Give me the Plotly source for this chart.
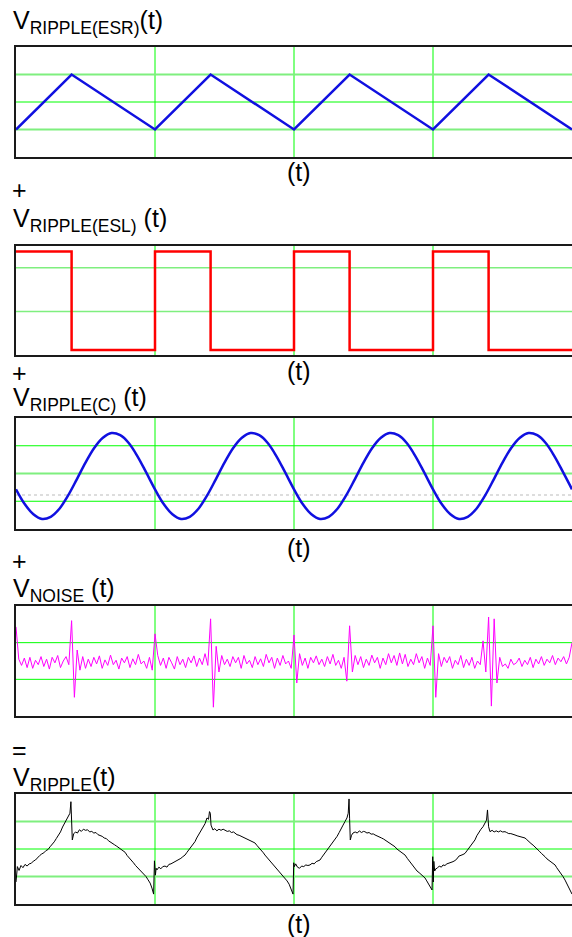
import plotly.graph_objects as go

W, H = 572, 937
FONT = "Liberation Sans, Arial, sans-serif"

# ---------------- data ----------------
# Panel 1: ESR ripple (triangle) - vertices
esr_t = [0, 0.4, 1.0, 1.4, 2.0, 2.4, 3.0, 3.4, 4.0]
esr_v = [1, 3, 1, 3, 1, 3, 1, 3, 1]

# Panel 2: ESL ripple (square wave) - transition points
esl_t = [0, 0.4, 1.0, 1.4, 2.0, 2.4, 3.0, 3.4, 4.0]
esl_v = [0.95, 0.045, 0.95, 0.045, 0.95, 0.045, 0.95, 0.045, 0.045]

# Panel 3: capacitor ripple (sine) sampled every 1/16 period
cap_step = 1 / 16
cap_v = [
    1.43, 0.90, 0.53, 0.36, 0.44, 0.73, 1.21, 1.79, 2.39, 2.92, 3.29, 3.46, 3.38, 3.09, 2.61, 2.03,
    1.43, 0.90, 0.53, 0.36, 0.44, 0.73, 1.21, 1.79, 2.39, 2.92, 3.29, 3.46, 3.38, 3.09, 2.61, 2.03,
    1.43, 0.90, 0.53, 0.36, 0.44, 0.73, 1.21, 1.79, 2.39, 2.92, 3.29, 3.46, 3.38, 3.09, 2.61, 2.03,
    1.43, 0.90, 0.53, 0.36, 0.44, 0.73, 1.21, 1.79, 2.39, 2.92, 3.29, 3.46, 3.38, 3.09, 2.61, 2.03,
    1.43,
]
cap_ref = 1.225  # dashed grey reference level

# Panel 4: noise, sampled every 0.02 period
noise_step = 0.02
noise_v = [
    0.93, 0.05, -0.12, 0.08, -0.18, 0.10, -0.20, 0.02, -0.10, 0.12,
    -0.15, 0.05, -0.22, 0.10, -0.05, 0.15, -0.18, 0.00, 0.12, -0.10,
    1.10, -0.99, 0.30, -0.25, 0.12, -0.20, 0.05, -0.15, 0.10, -0.08,
    0.14, -0.20, 0.03, -0.12, 0.16, -0.10, 0.02, -0.22, 0.08, -0.05,
    0.12, -0.18, 0.06, -0.10, 0.18, -0.08, 0.00, -0.20, 0.10, -0.25,
    0.74, 0.15, -0.12, 0.08, -0.20, 0.10, -0.05, -0.22, 0.12, -0.10,
    0.05, -0.18, 0.10, -0.05, 0.14, -0.15, 0.08, -0.10, 0.20, -0.12,
    1.15, -1.26, 0.40, -0.30, 0.15, -0.10, 0.05, -0.15, 0.12, -0.05,
    0.10, -0.20, 0.15, -0.08, 0.02, -0.18, 0.12, -0.10, 0.06, -0.15,
    0.18, -0.05, 0.10, -0.20, 0.08, -0.12, 0.15, -0.08, 0.00, -0.20,
    0.71, -0.60, 0.20, -0.12, 0.08, -0.20, 0.10, -0.05, 0.14, -0.10,
    0.05, -0.15, 0.12, -0.08, 0.18, -0.12, 0.02, -0.20, 0.10, -0.55,
    0.96, -0.30, 0.15, -0.10, 0.12, -0.18, 0.05, -0.12, 0.16, -0.05,
    0.10, -0.20, 0.08, -0.10, 0.20, -0.05, 0.15, -0.12, 0.22, -0.08,
    0.18, -0.15, 0.05, -0.10, 0.20, -0.05, 0.12, -0.20, 0.08, -0.12,
    0.96, -0.99, 0.20, -0.15, 0.10, -0.05, 0.12, -0.20, 0.02, -0.10,
    0.15, -0.18, 0.05, -0.12, 0.10, -0.20, 0.00, -0.10, 0.55, -0.30,
    1.20, -1.23, 1.15, -0.60, 0.10, -0.15, -0.08, -0.20, 0.05, -0.10,
    -0.05, 0.08, -0.15, 0.02, -0.10, 0.10, -0.18, 0.05, -0.08, 0.12,
    -0.12, 0.05, -0.05, 0.15, -0.10, 0.08, -0.02, 0.12, -0.08, 0.10,
    0.50,
]

# Panel 5: total ripple
ripple_t = [
    0.000, 0.010, 0.022, 0.036, 0.050, 0.065, 0.080, 0.095, 0.110, 0.125,
    0.140, 0.155, 0.170, 0.185, 0.200, 0.215, 0.230, 0.245, 0.260, 0.275,
    0.290, 0.305, 0.320, 0.335, 0.350, 0.365, 0.378, 0.388, 0.395, 0.400,
    0.405, 0.415, 0.428, 0.442, 0.456, 0.470, 0.485, 0.500, 0.515, 0.530,
    0.545, 0.560, 0.575, 0.590, 0.605, 0.620, 0.635, 0.650, 0.665, 0.680,
    0.695, 0.710, 0.725, 0.740, 0.755, 0.770, 0.785, 0.800, 0.815, 0.830,
    0.845, 0.860, 0.875, 0.890, 0.905, 0.920, 0.935, 0.950, 0.965, 0.978,
    0.990, 0.996, 1.003, 1.008, 1.014, 1.028, 1.042, 1.056, 1.072, 1.086,
    1.100, 1.115, 1.130, 1.144, 1.158, 1.172, 1.186, 1.200, 1.216, 1.230,
    1.245, 1.260, 1.275, 1.288, 1.300, 1.315, 1.330, 1.345, 1.360, 1.374,
    1.385, 1.392, 1.398, 1.403, 1.417, 1.430, 1.445, 1.460, 1.475, 1.490,
    1.504, 1.520, 1.535, 1.550, 1.565, 1.576, 1.590, 1.605, 1.620, 1.635,
    1.647, 1.660, 1.675, 1.690, 1.705, 1.719, 1.735, 1.750, 1.765, 1.780,
    1.791, 1.805, 1.820, 1.835, 1.850, 1.863, 1.878, 1.892, 1.906, 1.920,
    1.935, 1.950, 1.965, 1.978, 1.993, 1.998, 2.003, 2.012, 2.025, 2.040,
    2.055, 2.070, 2.085, 2.100, 2.115, 2.130, 2.145, 2.160, 2.175, 2.187,
    2.200, 2.212, 2.225, 2.237, 2.250, 2.265, 2.280, 2.295, 2.310, 2.325,
    2.340, 2.353, 2.367, 2.381, 2.390, 2.396, 2.400, 2.405, 2.414, 2.424,
    2.440, 2.455, 2.470, 2.485, 2.500, 2.510, 2.525, 2.540, 2.555, 2.570,
    2.583, 2.600, 2.615, 2.630, 2.645, 2.655, 2.670, 2.685, 2.700, 2.715,
    2.727, 2.740, 2.755, 2.770, 2.785, 2.799, 2.815, 2.830, 2.845, 2.858,
    2.871, 2.885, 2.900, 2.915, 2.930, 2.942, 2.955, 2.970, 2.983, 2.993,
    2.998, 3.002, 3.006, 3.012, 3.020, 3.030, 3.045, 3.060, 3.072, 3.086,
    3.100, 3.115, 3.130, 3.144, 3.158, 3.172, 3.186, 3.200, 3.216, 3.230,
    3.245, 3.260, 3.275, 3.288, 3.302, 3.315, 3.330, 3.345, 3.360, 3.374,
    3.385, 3.392, 3.396, 3.400, 3.410, 3.425, 3.440, 3.455, 3.470, 3.485,
    3.500, 3.518, 3.530, 3.545, 3.560, 3.575, 3.590, 3.605, 3.620, 3.635,
    3.650, 3.662, 3.675, 3.690, 3.705, 3.720, 3.734, 3.750, 3.765, 3.780,
    3.795, 3.806, 3.820, 3.835, 3.850, 3.865, 3.878, 3.890, 3.905, 3.920,
    3.935, 3.950, 3.965, 3.980, 4.000,
]
ripple_v = [
    0.80, 1.36, 1.22, 1.40, 1.32, 1.44, 1.38, 1.46, 1.48, 1.56,
    1.60, 1.70, 1.76, 1.82, 1.86, 1.94, 1.98, 2.08, 2.16, 2.26,
    2.38, 2.50, 2.62, 2.80, 2.94, 3.10, 3.24, 3.30, 3.72, 3.05,
    2.33, 2.55, 2.62, 2.58, 2.70, 2.64, 2.72, 2.68, 2.70, 2.62,
    2.64, 2.58, 2.60, 2.52, 2.50, 2.46, 2.40, 2.38, 2.30, 2.26,
    2.20, 2.15, 2.10, 2.04, 2.00, 1.92, 1.88, 1.76, 1.68, 1.58,
    1.50, 1.40, 1.32, 1.22, 1.16, 1.08, 1.00, 0.88, 0.76, 0.58,
    0.36, 1.57, 1.05, 1.30, 1.24, 1.34, 1.28, 1.36, 1.38, 1.34,
    1.44, 1.46, 1.50, 1.54, 1.58, 1.62, 1.66, 1.72, 1.78, 1.88,
    1.98, 2.06, 2.18, 2.27, 2.40, 2.52, 2.64, 2.76, 2.92, 3.13,
    3.08, 3.36, 3.30, 2.87, 2.69, 2.74, 2.66, 2.72, 2.68, 2.72,
    2.69, 2.64, 2.66, 2.60, 2.62, 2.58, 2.52, 2.50, 2.46, 2.44,
    2.40, 2.36, 2.32, 2.28, 2.24, 2.22, 2.12, 2.04, 1.94, 1.86,
    1.78, 1.70, 1.60, 1.52, 1.44, 1.36, 1.28, 1.18, 1.10, 1.04,
    0.95, 0.84, 0.72, 0.56, 0.36, 1.50, 1.36, 1.46, 1.34, 1.30,
    1.38, 1.36, 1.42, 1.40, 1.42, 1.48, 1.46, 1.54, 1.56, 1.60,
    1.70, 1.78, 1.86, 1.96, 2.04, 2.14, 2.22, 2.33, 2.46, 2.60,
    2.72, 2.87, 3.00, 3.13, 3.30, 3.82, 3.10, 2.33, 2.50, 2.58,
    2.62, 2.58, 2.66, 2.60, 2.64, 2.63, 2.58, 2.60, 2.54, 2.55,
    2.51, 2.46, 2.42, 2.40, 2.36, 2.33, 2.28, 2.22, 2.18, 2.12,
    2.08, 2.00, 1.94, 1.88, 1.84, 1.78, 1.66, 1.56, 1.46, 1.38,
    1.30, 1.20, 1.14, 1.06, 1.00, 0.95, 0.84, 0.72, 0.60, 0.51,
    1.72, 0.80, 1.55, 1.20, 1.28, 1.30, 1.38, 1.34, 1.42, 1.40,
    1.46, 1.48, 1.52, 1.54, 1.58, 1.64, 1.74, 1.76, 1.80, 1.84,
    1.95, 2.05, 2.15, 2.24, 2.33, 2.48, 2.62, 2.72, 2.81, 2.92,
    3.05, 3.42, 3.15, 2.81, 2.63, 2.68, 2.62, 2.66, 2.62, 2.66,
    2.62, 2.63, 2.60, 2.56, 2.56, 2.52, 2.51, 2.48, 2.46, 2.44,
    2.42, 2.40, 2.34, 2.26, 2.20, 2.14, 2.08, 2.00, 1.92, 1.84,
    1.78, 1.72, 1.64, 1.58, 1.52, 1.48, 1.42, 1.32, 1.22, 1.10,
    1.00, 0.87, 0.72, 0.56, 0.36,
]

cap_t = [i * cap_step for i in range(len(cap_v))]
noise_t = [i * noise_step for i in range(len(noise_v))]

# ---------------- layout helpers ----------------
PLOT_LEFT = 16
panels_px = [(47, 157), (246, 355), (418, 529), (606, 716), (794, 904)]
y_ranges = [[0, 4], [0, 1], [0, 4], [-1.5, 1.5], [0, 4]]
BRIGHT = "#00ff00"
LIGHT = "#7fef7f"
# horizontal grid per panel: (value, color, width)
h_grids = [
    [(1, LIGHT, 2), (2, BRIGHT, 1), (3, LIGHT, 2)],
    [(0.4, LIGHT, 1.5), (0.8, LIGHT, 1.5)],
    [(1, BRIGHT, 1), (2, LIGHT, 2), (3, BRIGHT, 1)],
    [(-0.5, BRIGHT, 1), (0.5, BRIGHT, 1)],
    [(1, LIGHT, 2), (2, BRIGHT, 1), (3, LIGHT, 2)],
]

fig = go.Figure()

traces = [
    dict(x=esr_t, y=esr_v, line=dict(color="#1010e0", width=2.5)),
    dict(x=esl_t, y=esl_v, line=dict(color="#ff0000", width=2.5, shape="hv")),
    dict(x=cap_t, y=cap_v, line=dict(color="#1010e0", width=2.5, shape="spline")),
    dict(x=noise_t, y=noise_v, line=dict(color="#ff00ff", width=1)),
    dict(x=ripple_t, y=ripple_v, line=dict(color="#000000", width=1)),
]

shapes = []
layout = {}
for i, ((top, bot), yr, tr) in enumerate(zip(panels_px, y_ranges, traces)):
    n = "" if i == 0 else str(i + 1)
    xa, ya = "x" + n, "y" + n
    fig.add_trace(go.Scatter(mode="lines", xaxis=xa, yaxis=ya, showlegend=False,
                             hoverinfo="skip", **tr))
    layout["xaxis" + n] = dict(
        domain=[PLOT_LEFT / W, 1], range=[0, 4], anchor=ya,
        showgrid=False, zeroline=False, showticklabels=False, ticks="",
        showline=True, mirror=True, linecolor="#1a1a1a", linewidth=2,
    )
    layout["yaxis" + n] = dict(
        domain=[1 - bot / H, 1 - top / H], range=yr, anchor=xa,
        showgrid=False, zeroline=False, showticklabels=False, ticks="",
        showline=True, mirror=False, linecolor="#1a1a1a", linewidth=2,
    )
    for gx in (1, 2, 3):
        shapes.append(dict(type="line", xref=xa, yref=ya + " domain", x0=gx, x1=gx,
                           y0=0, y1=1, line=dict(color=BRIGHT, width=1), layer="below"))
    for gv, col, wd in h_grids[i]:
        shapes.append(dict(type="line", xref=xa + " domain", yref=ya, x0=0, x1=1,
                           y0=gv, y1=gv, line=dict(color=col, width=wd), layer="below"))

shapes.append(dict(type="line", xref="x3 domain", yref="y3", x0=0, x1=1, y0=cap_ref,
                   y1=cap_ref, line=dict(color="#bbbbbb", width=1, dash="3px,3px"),
                   layer="below"))


def ann(text, px, py, xanchor="left", size=25):
    return dict(text=text, x=px / W, y=1 - py / H, xref="paper", yref="paper",
                xanchor=xanchor, yanchor="middle", showarrow=False,
                font=dict(size=size, family=FONT, color="black"))


annotations = [
    ann("V<sub>RIPPLE(ESR)</sub>(t)", 11, 22),
    ann("V<sub>RIPPLE(ESL)</sub> (t)", 11, 220),
    ann("V<sub>RIPPLE(C)</sub> (t)", 11, 399),
    ann("V<sub>NOISE</sub> (t)", 11, 590),
    ann("V<sub>RIPPLE</sub>(t)", 11, 779),
    ann("(t)", 299, 172, "center"),
    ann("(t)", 299, 371, "center"),
    ann("(t)", 299, 548, "center"),
    ann("(t)", 299, 924, "center"),
    ann("+", 19, 190, "center"),
    ann("+", 19, 373, "center"),
    ann("+", 19, 561, "center"),
    ann("=", 19, 750, "center"),
]

fig.update_layout(
    width=W, height=H, margin=dict(l=0, r=0, t=0, b=0),
    paper_bgcolor="white", plot_bgcolor="white",
    shapes=shapes, annotations=annotations, showlegend=False,
    **layout,
)

fig.write_html(
    "out.html",
    config={"displayModeBar": False},
    post_script="document.body.style.margin='0';document.body.style.overflow='hidden';",
)
